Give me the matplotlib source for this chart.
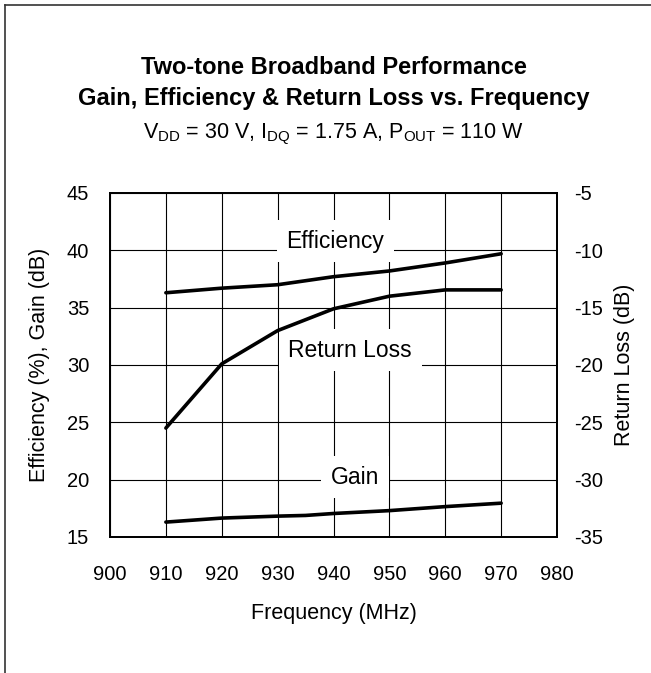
import matplotlib
matplotlib.use("Agg")
import matplotlib.pyplot as plt
from matplotlib.lines import Line2D

plt.rcParams["font.family"] = ["Liberation Sans", "DejaVu Sans"]
plt.rcParams["mathtext.fontset"] = "custom"
plt.rcParams["mathtext.rm"] = "Liberation Sans"
plt.rcParams["axes.unicode_minus"] = False

# values
freq = [910, 920, 930, 940, 950, 960, 970]
efficiency = [36.3, 36.7, 37.0, 37.7, 38.2, 38.9, 39.7]
returnLoss = [-25.5, -19.9, -17.0, -15.1, -14.0, -13.45, -13.45]
gainFreq = [910, 920, 930, 935, 940, 950, 960, 970]
gain = [16.3, 16.65, 16.82, 16.88, 17.05, 17.3, 17.65, 17.95]

xTicks = [900, 910, 920, 930, 940, 950, 960, 970, 980]
leftTicks = [15, 20, 25, 30, 35, 40, 45]
rightTicks = [-35, -30, -25, -20, -15, -10, -5]

W, H = 651, 673
fig = plt.figure(figsize=(W / 100, H / 100), dpi=100)

# axes box in pixels: x 110..557, y 193..537
ax = fig.add_axes([110 / W, 1 - 537 / H, (557 - 110) / W, (537 - 193) / H])
ax2 = ax.twinx()

ax.plot(freq, efficiency, color="black", lw=2.6, solid_capstyle="round", zorder=4)
ax.plot(gainFreq, gain, color="black", lw=2.6, solid_capstyle="round", zorder=4)
ax2.plot(freq, returnLoss, color="black", lw=2.6, solid_capstyle="round", zorder=4)

ax.set_xlim(900, 980)
ax.set_ylim(15, 45)
ax2.set_ylim(-35, -5)
ax.set_xticks(xTicks)
ax.set_yticks(leftTicks)
ax2.set_yticks(rightTicks)

ax.grid(True, color="black", lw=0.8)
ax.set_axisbelow(True)
ax.tick_params(length=0, labelsize=14.5, pad=15)
ax.tick_params(axis="x", pad=20)
ax2.tick_params(length=0, labelsize=14.5, pad=12)

for a in (ax, ax2):
  for s in a.spines.values():
    s.set_linewidth(1.3)

ax.set_xlabel("Frequency (MHz)", fontsize=15.5, labelpad=14)
ax.set_ylabel("Efficiency (%), Gain (dB)", fontsize=15.5, labelpad=12)
ax2.set_ylabel("Return Loss (dB)", fontsize=15.5, labelpad=8)

box = dict(facecolor="white", edgecolor="none", pad=7)
ax.text(940.3, 40.8, "Efficiency", fontsize=16.5, ha="center", va="center", bbox=box, zorder=3)
ax.text(943.0, 31.3, "Return Loss", fontsize=16.5, ha="center", va="center", bbox=box, zorder=3)
ax.text(943.8, 20.2, "Gain", fontsize=16.5, ha="center", va="center", bbox=box, zorder=3)

cx = (110 + 557) / 2 / W
fig.text(cx, 1 - 74 / H, "Two-tone Broadband Performance", fontsize=17, fontweight="bold", ha="center", va="baseline")
fig.text(cx, 1 - 105.5 / H, "Gain, Efficiency & Return Loss vs. Frequency", fontsize=17, fontweight="bold", ha="center", va="baseline")
fig.text(cx, 1 - 138 / H,
         r"$\mathregular{V_{DD}}$ = 30 V, $\mathregular{I_{DQ}}$ = 1.75 A, $\mathregular{P_{OUT}}$ = 110 W",
         fontsize=15.5, ha="center", va="baseline")

# partial frame round the figure (top and left only)
fig.add_artist(Line2D([5 / W, 1], [1 - 5 / H, 1 - 5 / H], color="#333333", lw=1.2))
fig.add_artist(Line2D([5 / W, 5 / W], [0, 1 - 5 / H], color="#333333", lw=1.2))

fig.savefig("out.png", dpi=100, facecolor="white")
